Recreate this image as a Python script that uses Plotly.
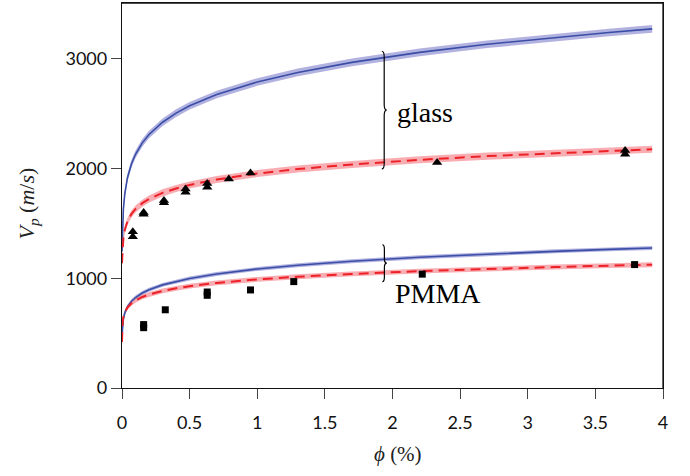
import plotly.graph_objects as go

# ---- model curves ----
x_curve = [0, 0.002, 0.005, 0.01, 0.02, 0.04, 0.07, 0.1, 0.15, 0.2, 0.3, 0.4, 0.5, 0.7,
           1.0, 1.3, 1.7, 2.2, 2.7, 3.2, 3.6, 3.92]
glass_blue = [1244, 1349, 1501, 1628, 1765, 1915, 2044, 2131, 2235, 2311, 2423, 2506, 2573, 2676,
              2790, 2877, 2969, 3060, 3134, 3197, 3241, 3274]
glass_red = [1137, 1200, 1290, 1362, 1438, 1518, 1587, 1632, 1685, 1723, 1779, 1819, 1851, 1901,
             1955, 1996, 2038, 2080, 2114, 2142, 2162, 2176]
pmma_blue = [477, 518, 578, 627, 681, 740, 791, 825, 866, 896, 940, 973, 999, 1040,
             1085, 1119, 1156, 1192, 1221, 1246, 1264, 1277]
pmma_red = [420, 555, 605, 645, 688, 734, 773, 799, 830, 852, 885, 909, 928, 958,
            990, 1014, 1040, 1065, 1086, 1103, 1115, 1124]

# band half-widths (m/s)
band_glass_blue = 35
band_glass_red = 32
band_pmma_blue = 18
band_pmma_red = 22

# ---- measurements ----
glass_x = [0.08, 0.08, 0.16, 0.16, 0.31, 0.31, 0.47, 0.47, 0.63, 0.63, 0.79, 0.95, 2.33, 3.72, 3.72]
glass_v = [1380, 1425, 1585, 1600, 1690, 1710, 1785, 1815, 1830, 1865, 1905, 1960, 2055, 2130, 2165]
pmma_x = [0.16, 0.16, 0.32, 0.63, 0.63, 0.95, 1.27, 2.22, 3.79]
pmma_v = [550, 578, 713, 845, 875, 894, 970, 1038, 1125]

x_ticks = [0, 0.5, 1, 1.5, 2, 2.5, 3, 3.5, 4]
x_ticklabels = ["0", "0.5", "1", "1.5", "2", "2.5", "3", "3.5", "4"]
y_ticks = [0, 1000, 2000, 3000]
y_ticklabels = ["0", "1000", "2000", "3000"]

X_MAX = 4
Y_MAX = 3510

BLUE = "#3a4ea6"
BLUE_BAND = "rgba(115,115,200,0.55)"
RED = "#ec2228"
RED_BAND = "rgba(242,105,115,0.55)"

fig = go.Figure()


def add_band(vals, hw, color):
    up = [v + hw for v in vals]
    lo = [v - hw for v in vals]
    fig.add_trace(go.Scatter(x=x_curve, y=up, mode="lines", line=dict(width=0, color=color),
                             hoverinfo="skip", showlegend=False))
    fig.add_trace(go.Scatter(x=x_curve, y=lo, mode="lines", line=dict(width=0, color=color),
                             fill="tonexty", fillcolor=color, hoverinfo="skip", showlegend=False))


add_band(glass_blue, band_glass_blue, BLUE_BAND)
add_band(glass_red, band_glass_red, RED_BAND)
add_band(pmma_blue, band_pmma_blue, BLUE_BAND)
add_band(pmma_red, band_pmma_red, RED_BAND)

for vals in (glass_blue, pmma_blue):
    fig.add_trace(go.Scatter(x=x_curve, y=vals, mode="lines",
                             line=dict(color=BLUE, width=1.6), showlegend=False))
for vals in (glass_red, pmma_red):
    fig.add_trace(go.Scatter(x=x_curve, y=vals, mode="lines",
                             line=dict(color=RED, width=2, dash="10px,6px"), showlegend=False))

fig.add_trace(go.Scatter(x=glass_x, y=glass_v, mode="markers",
                         marker=dict(symbol="triangle-up", size=9, color="black"), showlegend=False))
fig.add_trace(go.Scatter(x=pmma_x, y=pmma_v, mode="markers",
                         marker=dict(symbol="square", size=7, color="black"), showlegend=False))


def brace_path(x0, x1, x2, ytop, ybot, r):
    ymid = (ytop + ybot) / 2
    return (f"M {x0},{ytop} Q {x1},{ytop} {x1},{ytop - r} "
            f"L {x1},{ymid + r} Q {x1},{ymid} {x2},{ymid} "
            f"Q {x1},{ymid} {x1},{ymid - r} "
            f"L {x1},{ybot + r} Q {x1},{ybot} {x0},{ybot}")


fig.add_shape(type="path", xref="x", yref="y",
              path=brace_path(1.921, 1.9386, 1.957, 3070, 1997, 50),
              line=dict(color="black", width=1.2))
fig.add_shape(type="path", xref="x", yref="y",
              path=brace_path(1.925, 1.940, 1.958, 1306, 970, 40),
              line=dict(color="black", width=1.2))
# plot frame: top and right edges
fig.add_shape(type="line", xref="paper", yref="paper", x0=0, x1=1, y0=1, y1=1,
              line=dict(color="#111", width=1.3), layer="above")
fig.add_shape(type="line", xref="paper", yref="paper", x0=1, x1=1, y0=0, y1=1,
              line=dict(color="#111", width=1.3), layer="above")

serif = "Liberation Serif"
fig.add_annotation(x=2.02, y=2511, xref="x", yref="y", text="glass", showarrow=False,
                   xanchor="left", yanchor="middle", font=dict(family=serif, size=28, color="black"))
fig.add_annotation(x=2.0, y=861, xref="x", yref="y", text="PMMA", showarrow=False,
                   xanchor="left", yanchor="middle", font=dict(family=serif, size=28, color="black"))

fig.add_annotation(x=-0.1738, y=0.479, xref="paper", yref="paper",
                   xanchor="center", yanchor="middle",
                   text="<i>V</i><sub><i>p</i></sub> (<i>m</i>/<i>s</i>)", textangle=-90,
                   showarrow=False, font=dict(family=serif, size=22, color="#222"))
fig.add_annotation(x=0.51, y=-0.171, xref="paper", yref="paper",
                   xanchor="center", yanchor="middle",
                   text="<i>ϕ</i> (%)", showarrow=False,
                   font=dict(family=serif, size=21, color="#222"))

fig.update_xaxes(range=[0, X_MAX], tickvals=x_ticks, ticktext=x_ticklabels,
                 showgrid=False, zeroline=False, showline=True, mirror=True,
                 linecolor="#111", linewidth=1.3, ticks="outside", ticklen=10,
                 tickcolor="#444", tickwidth=1.2, ticklabelstandoff=8,
                 tickfont=dict(family="Lato", size=18, color="#111"))
fig.update_yaxes(range=[0, Y_MAX], tickvals=y_ticks, ticktext=y_ticklabels,
                 showgrid=False, zeroline=False, showline=True, mirror=True,
                 linecolor="#111", linewidth=1.3, ticks="outside", ticklen=10,
                 tickcolor="#444", tickwidth=1.2,
                 tickfont=dict(family="Lato", size=18, color="#111"))

fig.update_layout(width=690, height=476, margin=dict(l=122, r=27, t=3, b=88),
                  plot_bgcolor="white", paper_bgcolor="white", showlegend=False)

fig.write_html("out.html", config={"displayModeBar": False},
               post_script="document.body.style.margin='0';")
